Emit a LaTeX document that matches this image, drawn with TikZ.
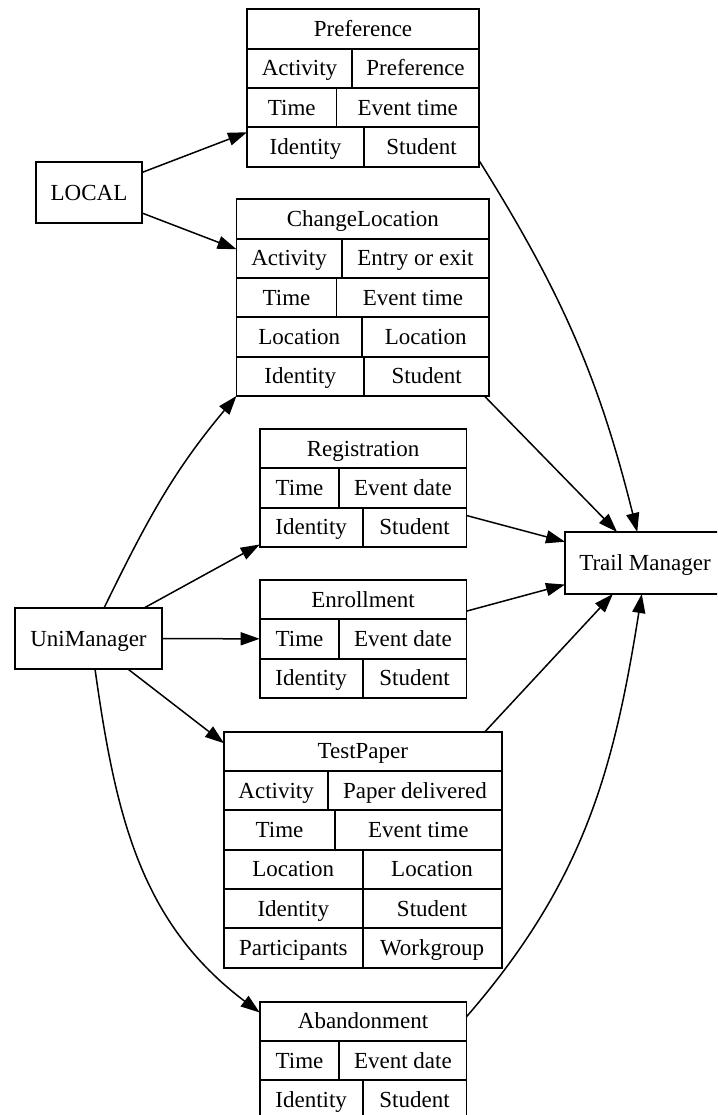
\documentclass[tikz,border=0pt]{standalone}
\usepackage{fontspec}
\setmainfont{Liberation Serif}
\usetikzlibrary{arrows.meta,fit}

% one two-field row of a record: name, left x, divider x, right x, top y, left text, right text
\newcommand\fieldrow[7]{%
  \node[cell, minimum width={#3-#2}] (#1a) at (#2,-#5) {#6};
  \node[cell, minimum width={#4-#3}] (#1b) at (#3,-#5) {#7};
}

\begin{document}
\begin{tikzpicture}[x=1pt, y=1pt,
  font=\fontsize{23pt}{27pt}\selectfont,
  cell/.style={draw, line width=1.8pt, inner sep=0pt, outer sep=0pt,
    anchor=north west, minimum height=39.33pt, text height=15.2pt, text depth=0pt},
  plainbox/.style={draw, line width=1.8pt, inner sep=0pt, outer sep=0pt,
    text height=15.2pt, text depth=0pt},
  frame/.style={inner sep=0pt, outer sep=0pt},
  edge/.style={line width=1.5pt, -{Triangle[length=19pt, width=13pt]}}]

\useasboundingbox (0,0) rectangle (717,-1115);
\clip (0,0) rectangle (717,-1115);

% source and sink systems
\node[plainbox, minimum width=106pt, minimum height=61pt] (local) at (89,-192.7) {LOCAL};
\node[plainbox, minimum width=147.7pt, minimum height=61.5pt] (uni) at (88.5,-638.5) {UniManager};
\node[plainbox, minimum width=160pt, minimum height=62pt] (tm) at (645,-563) {Trail Manager};

% Preference record
\node[cell, minimum width=232pt] (prefH) at (247,-9.3) {Preference};
\fieldrow{pref1}{247}{352}{479}{48.63}{Activity}{Preference}
\fieldrow{pref2}{247}{336.5}{479}{87.96}{Time}{Event time}
\fieldrow{pref3}{247}{364}{479}{127.29}{Identity}{Student}
\node[frame, fit=(prefH)(pref3a)(pref3b)] (pref) {};

% ChangeLocation record
\node[cell, minimum width=252.8pt] (chgH) at (236.5,-199.3) {ChangeLocation};
\fieldrow{chg1}{236.5}{341.6}{489.3}{238.63}{Activity}{Entry or exit}
\fieldrow{chg2}{236.5}{336.5}{489.3}{277.96}{Time}{Event time}
\fieldrow{chg3}{236.5}{362}{489.3}{317.29}{Location}{Location}
\fieldrow{chg4}{236.5}{364}{489.3}{356.62}{Identity}{Student}
\node[frame, fit=(chgH)(chg4a)(chg4b)] (chg) {};

% Registration record
\node[cell, minimum width=206.7pt] (regH) at (259.7,-429) {Registration};
\fieldrow{reg1}{259.7}{339.3}{466.4}{468.33}{Time}{Event date}
\fieldrow{reg2}{259.7}{362.6}{466.4}{507.66}{Identity}{Student}
\node[frame, fit=(regH)(reg2a)(reg2b)] (reg) {};

% Enrollment record
\node[cell, minimum width=206.7pt] (enrH) at (259.7,-580) {Enrollment};
\fieldrow{enr1}{259.7}{339.3}{466.4}{619.33}{Time}{Event date}
\fieldrow{enr2}{259.7}{362.6}{466.4}{658.66}{Identity}{Student}
\node[frame, fit=(enrH)(enr2a)(enr2b)] (enr) {};

% TestPaper record
\node[cell, minimum width=277.6pt] (tpH) at (224,-731.7) {TestPaper};
\fieldrow{tp1}{224}{328.3}{501.6}{771.03}{Activity}{Paper delivered}
\fieldrow{tp2}{224}{335}{501.6}{810.36}{Time}{Event time}
\fieldrow{tp3}{224}{362.6}{501.6}{849.69}{Location}{Location}
\fieldrow{tp4}{224}{362.6}{501.6}{889.02}{Identity}{Student}
\fieldrow{tp5}{224}{362.6}{501.6}{928.35}{Participants}{Workgroup}
\node[frame, fit=(tpH)(tp5a)(tp5b)] (tp) {};

% Abandonment record
\node[cell, minimum width=206.7pt] (abH) at (259.7,-1001.7) {Abandonment};
\fieldrow{ab1}{259.7}{339.3}{466.4}{1041.03}{Time}{Event date}
\fieldrow{ab2}{259.7}{362.6}{466.4}{1080.36}{Identity}{Student}
\node[frame, fit=(abH)(ab2a)(ab2b)] (ab) {};

% connectors
\draw[edge] (local) -- (pref);
\draw[edge] (local) -- (chg);
\draw[edge] (uni.63) to[out=64, in=230] (chg.south west);
\draw[edge] (uni) -- (reg);
\draw[edge] (uni) -- (enr);
\draw[edge] (uni) -- (tp);
\draw[edge] (uni.-78) to[out=-82, in=143] (ab.155);
\draw[edge] (pref.-32) to[out=-58, in=104] (tm.104);
\draw[edge] (chg.-39) -- (tm.132);
\draw[edge] (reg) -- (tm);
\draw[edge] (enr) -- (tm);
\draw[edge] (tp.44) -- (tm.-136);
\draw[edge] (ab.23) to[out=49, in=261] (tm.-96);
\end{tikzpicture}
\end{document}
